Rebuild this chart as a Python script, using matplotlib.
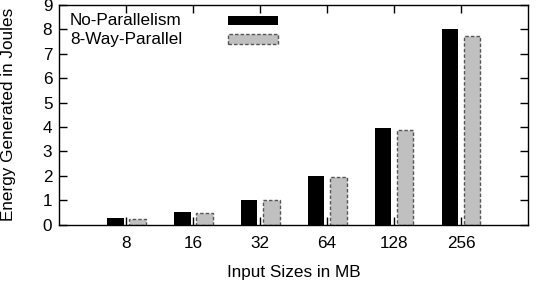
import numpy as np
import matplotlib
matplotlib.use("Agg")
import matplotlib.pyplot as plt
from matplotlib.patches import Rectangle

plt.rcParams['font.family'] = ['Liberation Sans', 'DejaVu Sans']

# data
sizes = ['8', '16', '32', '64', '128', '256']
no_parallel = [0.26, 0.52, 1.03, 1.99, 3.98, 8.02]
way8_parallel = [0.23, 0.49, 1.00, 1.95, 3.86, 7.75]
series_labels = ['No-Parallelism', '8-Way-Parallel']

fs = 12.3
gray = '#c0c0c0'
edge = '#555555'

fig = plt.figure(figsize=(5.37, 2.82), dpi=100)
ax = fig.add_axes([0.1104, 0.2032, 0.8728, 0.7791])

x = np.arange(len(sizes))
w = 0.25
off = 0.165
ax.bar(x - off, no_parallel, w, color='black', linewidth=0)
ax.bar(x + off, way8_parallel, w, color=gray, edgecolor=edge,
       linewidth=1.0, linestyle=(0, (2.5, 1.5)))

ax.set_xlim(-1, 6)
ax.set_ylim(0, 9)
ax.set_xticks(x)
ax.set_xticklabels(sizes)
ax.set_yticks(range(10))

ax.tick_params(direction='in', length=6, width=1, labelsize=fs,
               top=True, right=True, pad=8)
ax.tick_params(axis='y', pad=5)
for s in ax.spines.values():
    s.set_linewidth(1.0)

ax.set_xlabel('Input Sizes in MB', fontsize=fs, labelpad=10)
ax.set_ylabel('Energy Generated in Joules', fontsize=fs, labelpad=19)

# gnuplot-style key: labels left, samples right
key_y = [0.929, 0.844]
styles = [dict(facecolor='black', edgecolor='black', linewidth=0),
          dict(facecolor=gray, edgecolor=edge, linewidth=1.0,
               linestyle=(0, (2.5, 1.5)))]
for lab, ky, st in zip(series_labels, key_y, styles):
    ax.text(0.023, ky, lab, transform=ax.transAxes, fontsize=fs,
            va='center', ha='left')
    ax.add_patch(Rectangle((0.36, ky - 0.022), 0.107, 0.044,
                           transform=ax.transAxes, **st))

fig.savefig('out.png', dpi=100)
